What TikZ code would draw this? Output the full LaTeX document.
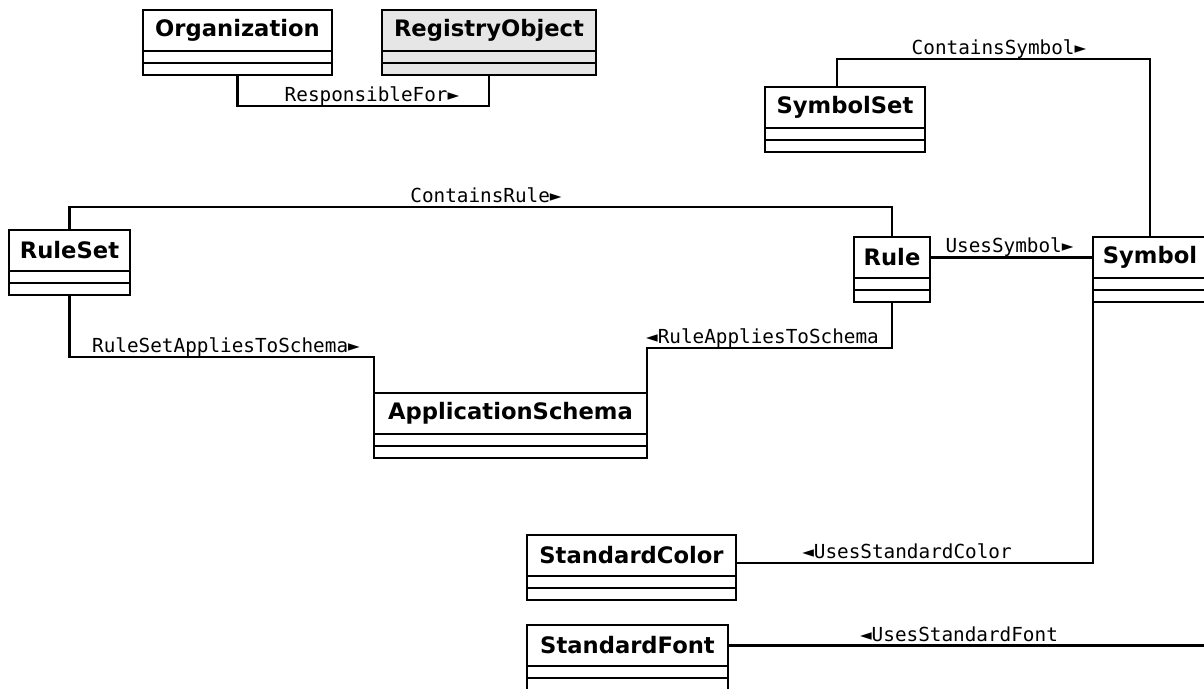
\documentclass[tikz,border=0pt]{standalone}
\usepackage{fontspec}
\setmainfont{DejaVu Sans}
\setmonofont{DejaVu Sans Mono}
\usepackage{tikz}
\usetikzlibrary{positioning}
\definecolor{reg_gray}{RGB}{230,230,230}
\newcommand{\unitpx}{0.02cm}
\newcommand{\rtri}{►}
\newcommand{\ltri}{◄}

\begin{document}
\begin{tikzpicture}[x=0.02cm,y=-0.02cm,line width=1.4pt]
    \tikzstyle{cname}=[draw, rectangle, inner sep=0pt, outer sep=0pt, minimum height=41*\unitpx, font=\fontsize{12.9}{15}\selectfont\bfseries]
    \tikzstyle{ccomp}=[draw, rectangle, inner sep=0pt, outer sep=0pt, minimum height=12*\unitpx]
    \tikzstyle{lbl}=[anchor=base, inner sep=0pt, font=\fontsize{11}{13}\selectfont\ttfamily]

    \clip (0,0) rectangle (1204,689);

    % classes
    \node[cname, minimum width=189*\unitpx] (org) at (237.5,30.5) {Organization};
    \node[ccomp, minimum width=189*\unitpx, below=0pt of org]   (org-a) {};
    \node[ccomp, minimum width=189*\unitpx, below=0pt of org-a] (org-o) {};

    \node[cname, fill=reg_gray, minimum width=214*\unitpx] (reg) at (489,30.5) {RegistryObject};
    \node[ccomp, fill=reg_gray, minimum width=214*\unitpx, below=0pt of reg]   (reg-a) {};
    \node[ccomp, fill=reg_gray, minimum width=214*\unitpx, below=0pt of reg-a] (reg-o) {};

    \node[cname, minimum width=160*\unitpx] (symset) at (845,107.5) {SymbolSet};
    \node[ccomp, minimum width=160*\unitpx, below=0pt of symset]   (symset-a) {};
    \node[ccomp, minimum width=160*\unitpx, below=0pt of symset-a] (symset-o) {};

    \node[cname, minimum width=121*\unitpx] (ruleset) at (69.5,250.5) {RuleSet};
    \node[ccomp, minimum width=121*\unitpx, below=0pt of ruleset]   (ruleset-a) {};
    \node[ccomp, minimum width=121*\unitpx, below=0pt of ruleset-a] (ruleset-o) {};

    \node[cname, minimum width=76*\unitpx] (rule) at (892,257.5) {Rule};
    \node[ccomp, minimum width=76*\unitpx, below=0pt of rule]   (rule-a) {};
    \node[ccomp, minimum width=76*\unitpx, below=0pt of rule-a] (rule-o) {};

    \node[cname, minimum width=114*\unitpx] (symbol) at (1150,257.5) {Symbol};
    \node[ccomp, minimum width=114*\unitpx, below=0pt of symbol]   (symbol-a) {};
    \node[ccomp, minimum width=114*\unitpx, below=0pt of symbol-a] (symbol-o) {};

    \node[cname, minimum width=273*\unitpx] (app) at (510.5,413.5) {ApplicationSchema};
    \node[ccomp, minimum width=273*\unitpx, below=0pt of app]   (app-a) {};
    \node[ccomp, minimum width=273*\unitpx, below=0pt of app-a] (app-o) {};

    \node[cname, minimum width=209*\unitpx] (stdcolor) at (631.5,555.5) {StandardColor};
    \node[ccomp, minimum width=209*\unitpx, below=0pt of stdcolor]   (stdcolor-a) {};
    \node[ccomp, minimum width=209*\unitpx, below=0pt of stdcolor-a] (stdcolor-o) {};

    \node[cname, minimum width=201*\unitpx] (stdfont) at (627.5,645.5) {StandardFont};
    \node[ccomp, minimum width=201*\unitpx, below=0pt of stdfont]   (stdfont-a) {};
    \node[ccomp, minimum width=201*\unitpx, below=0pt of stdfont-a, minimum height=14*\unitpx] (stdfont-o) {};

    \coordinate (fontend) at (1230,645.5);

    % associations
    \draw (org-o.south) -- ++(0,31) -| (reg-o.south);
    \draw ([xshift=-8*\unitpx]symset.north) -- ++(0,-28) -| (symbol.north);
    \draw (ruleset.north) -- ++(0,-23) -| (rule.north);
    \draw (rule.east) -- (symbol.west);
    \draw (ruleset-o.south) -- ++(0,62) -| (app.north west);
    \draw (rule-o.south) -- ++(0,46) -| (app.north east);
    \draw (symbol-o.south west) |- ([yshift=-7.5*\unitpx]stdcolor.east);
    \draw (stdfont.east) -- (fontend);

    % association names
    \node[lbl] (respfor)   at (372,101.5)  {ResponsibleFor\rtri};
    \node[lbl] (contsym)   at (999,54.5)   {ContainsSymbol\rtri};
    \node[lbl] (contrule)  at (486,202.5)  {ContainsRule\rtri};
    \node[lbl] (usessym)   at (1009.5,253) {UsesSymbol\rtri};
    \node[lbl] (rsapplies) at (226,352.5)  {RuleSetAppliesToSchema\rtri};
    \node[lbl] (rapplies)  at (762.5,343.5) {\ltri RuleAppliesToSchema};
    \node[lbl] (usescolor) at (907,558.5)  {\ltri UsesStandardColor};
    \node[lbl] (usesfont)  at (959,641.5)  {\ltri UsesStandardFont};
\end{tikzpicture}
\end{document}
